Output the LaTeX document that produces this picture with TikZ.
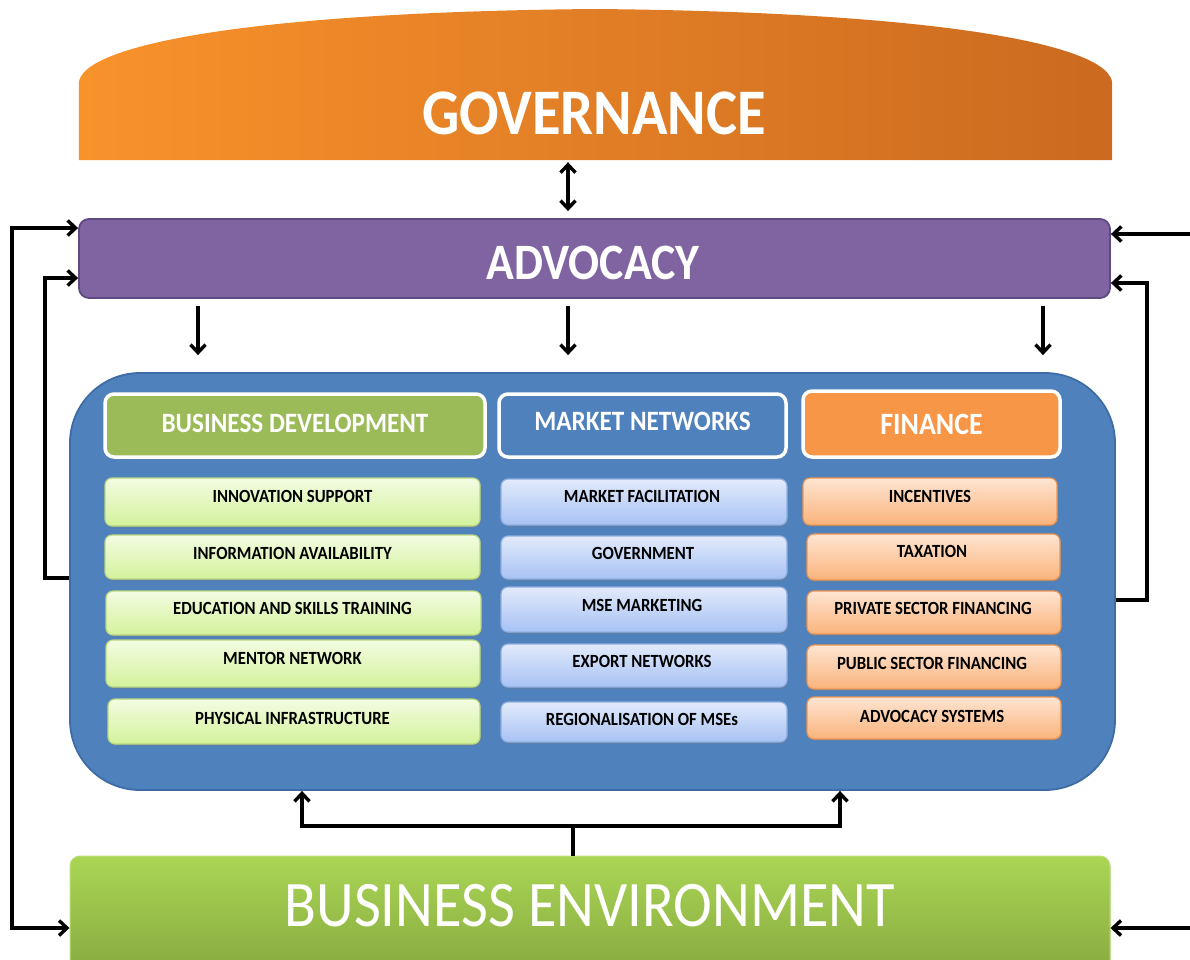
\documentclass[tikz,border=0pt]{standalone}
\usepackage{fontspec}
\setmainfont[FakeStretch=0.9]{Carlito}
\usetikzlibrary{arrows.meta,shadows,calc}
\definecolor{govL}{HTML}{F8922B}
\definecolor{govM}{HTML}{EE8527}
\definecolor{govR}{HTML}{CB6A20}
\definecolor{advF}{HTML}{8064A2}
\definecolor{advD}{HTML}{5E4A82}
\definecolor{contF}{HTML}{4F81BD}
\definecolor{contD}{HTML}{3D6CA6}
\definecolor{bdF}{HTML}{9BBB59}
\definecolor{mnF}{HTML}{4F81BD}
\definecolor{finF}{HTML}{F79646}
\definecolor{gT}{HTML}{F3FCE2}
\definecolor{gB}{HTML}{D3F29B}
\definecolor{gD}{HTML}{B9D77E}
\definecolor{bT}{HTML}{E2EAFB}
\definecolor{bB}{HTML}{A7C2F4}
\definecolor{bD}{HTML}{8FAEE0}
\definecolor{oT}{HTML}{FEE5D2}
\definecolor{oB}{HTML}{FAB37B}
\definecolor{oD}{HTML}{EE9550}
\definecolor{beT}{HTML}{AAD655}
\definecolor{beB}{HTML}{87A83F}
\tikzset{
  conn/.style={draw=black, line width=3.4pt},
  arr/.style={conn, -{Straight Barb[length=8pt,width=15pt]}},
  darr/.style={conn, {Straight Barb[length=8pt,width=15pt]}-{Straight Barb[length=8pt,width=15pt]}},
  hdr/.style={draw=white, line width=3.5pt, rounded corners=9pt, inner sep=0pt,
    drop shadow={shadow xshift=1pt, shadow yshift=-2.5pt, opacity=0.35}},
  sub/.style={line width=1.2pt, rounded corners=7pt, inner sep=0pt,
    drop shadow={shadow xshift=1pt, shadow yshift=-2pt, opacity=0.3}},
  gsub/.style={sub, draw=gD, top color=gT, bottom color=gB},
  bsub/.style={sub, draw=bD, top color=bT, bottom color=bB},
  osub/.style={sub, draw=oD, top color=oT, bottom color=oB},
  stext/.style={font=\bfseries\fontsize{18.6}{20}\selectfont, text=black, inner sep=0pt},
  htext/.style={font=\bfseries\fontsize{28}{30}\selectfont, text=white, inner sep=0pt},
}
\begin{document}
\begin{tikzpicture}[x=1pt,y=-1pt]
\useasboundingbox (0,0) rectangle (1190,959);

% ---------- GOVERNANCE ----------
\node[inner sep=0pt, minimum width=1033pt, minimum height=76pt] (govbox) at (595.5,122) {};
\shade[left color=govL, middle color=govM, right color=govR]
  (govbox.south west) -- (govbox.north west)
  .. controls (79,45) and (250,12) .. (595,9)
  .. controls (940,12) and (1112,45) .. (govbox.north east)
  -- (govbox.south east) -- cycle;
\node[font=\bfseries\fontsize{65}{70}\selectfont, text=white, inner sep=0pt] (gov) at (594,113) {GOVERNANCE};

% ---------- ADVOCACY ----------
\node[draw=advD, line width=1.8pt, fill=advF, rounded corners=10pt, inner sep=0pt,
      minimum width=1031pt, minimum height=79pt] (adv) at (594.5,258.5) {};
\node[font=\bfseries\fontsize{51}{55}\selectfont, text=white, inner sep=0pt] (advt) at (593,263) {ADVOCACY};

% ---------- CONTAINER ----------
\node[draw=contD, line width=1.8pt, fill=contF, rounded corners=70pt, inner sep=0pt,
      minimum width=1045pt, minimum height=417pt] (cont) at (592.5,581.5) {};

% headers
\node[hdr, fill=bdF, minimum width=380pt, minimum height=63pt] (bd) at (295,425.5) {};
\node[htext] (bdt) at (295,423) {BUSINESS DEVELOPMENT};
\node[hdr, fill=mnF, minimum width=287pt, minimum height=63pt] (mn) at (642.5,425.5) {};
\node[htext] (mnt) at (642.5,421) {MARKET NETWORKS};
\node[hdr, fill=finF, minimum width=257pt, minimum height=66pt] (fin) at (931.5,424) {};
\node[htext, font=\bfseries\fontsize{31}{33}\selectfont] (fint) at (931.5,424) {FINANCE};

% green column
\node[gsub, minimum width=375pt, minimum height=48pt] (g1) at (292.5,502) {};
\node[stext] (g1t) at (292.5,496) {INNOVATION SUPPORT};
\node[gsub, minimum width=375pt, minimum height=44pt] (g2) at (292.5,557) {};
\node[stext] (g2t) at (292.5,553) {INFORMATION AVAILABILITY};
\node[gsub, minimum width=375pt, minimum height=44pt] (g3) at (293.5,613) {};
\node[stext] (g3t) at (292.5,608) {EDUCATION AND SKILLS TRAINING};
\node[gsub, minimum width=374pt, minimum height=47pt] (g4) at (293,663.5) {};
\node[stext] (g4t) at (292.5,658) {MENTOR NETWORK};
\node[gsub, minimum width=372pt, minimum height=45pt] (g5) at (294,721.5) {};
\node[stext] (g5t) at (292.5,718) {PHYSICAL INFRASTRUCTURE};

% blue column
\node[bsub, minimum width=286pt, minimum height=46pt] (m1) at (644,502) {};
\node[stext] (m1t) at (642,496) {MARKET FACILITATION};
\node[bsub, minimum width=286pt, minimum height=43pt] (m2) at (644,557.5) {};
\node[stext] (m2t) at (643,553) {GOVERNMENT};
\node[bsub, minimum width=286pt, minimum height=45pt] (m3) at (644,609.5) {};
\node[stext] (m3t) at (642,605) {MSE MARKETING};
\node[bsub, minimum width=286pt, minimum height=43pt] (m4) at (644,665.5) {};
\node[stext] (m4t) at (642,661) {EXPORT NETWORKS};
\node[bsub, minimum width=286pt, minimum height=40pt] (m5) at (644,722) {};
\node[stext] (m5t) at (642,719) {REGIONALISATION OF MSEs};

% orange column
\node[osub, minimum width=254pt, minimum height=47pt] (f1) at (930,501.5) {};
\node[stext] (f1t) at (930,496) {INCENTIVES};
\node[osub, minimum width=253pt, minimum height=46pt] (f2) at (933.5,557) {};
\node[stext] (f2t) at (932,551) {TAXATION};
\node[osub, minimum width=254pt, minimum height=43pt] (f3) at (934,612.5) {};
\node[stext] (f3t) at (933,608) {PRIVATE SECTOR FINANCING};
\node[osub, minimum width=254pt, minimum height=44pt] (f4) at (934,667) {};
\node[stext] (f4t) at (932,663) {PUBLIC SECTOR FINANCING};
\node[osub, minimum width=254pt, minimum height=42pt] (f5) at (934,718) {};
\node[stext] (f5t) at (932,716) {ADVOCACY SYSTEMS};

% ---------- BUSINESS ENVIRONMENT ----------
\node[top color=beT, bottom color=beB, draw=beT!80!white, line width=1pt, rounded corners=10pt, inner sep=0pt,
      minimum width=1040pt, minimum height=120pt,
      drop shadow={shadow xshift=1pt, shadow yshift=-2pt, opacity=0.3}] (be) at (590,916) {};
\node[font=\fontsize{65}{70}\selectfont, text=white, inner sep=0pt] (bet) at (590,906) {BUSINESS ENVIRONMENT};

% ---------- helper coordinates ----------
\coordinate (xg) at (568,0);
\coordinate (d1) at (198,0);
\coordinate (d3) at (1043,0);
\coordinate (xLo) at (12,0);
\coordinate (xLi) at (45,0);
\coordinate (xRi) at (1147,0);
\coordinate (xRo) at (1190,0);
\coordinate (xm) at (573,0);
\coordinate (xb1) at (302,0);
\coordinate (xb2) at (840,0);
\coordinate (yA) at (0,228);
\coordinate (yB) at (0,928);
\coordinate (yC) at (0,578);
\coordinate (yD) at (0,278);
\coordinate (yE) at (0,600);
\coordinate (yF) at (0,283);
\coordinate (yG) at (0,234);
\coordinate (yH) at (0,826);

% ---------- connectors ----------
\draw[darr, shorten <=2pt, shorten >=7pt] (govbox.south -| xg) -- (adv.north -| xg);
\draw[arr, shorten <=7pt, shorten >=17pt] (adv.south -| d1) -- (cont.north -| d1);
\draw[arr, shorten <=7pt, shorten >=17pt] (adv.south -| xg) -- (cont.north -| xg);
\draw[arr, shorten <=7pt, shorten >=17pt] (adv.south -| d3) -- (cont.north -| d3);

% left outer (advocacy <-> business environment)
\draw[darr] (adv.west |- yA) -- (xLo |- yA) -- (xLo |- yB) -- (be.west |- yB);
% left inner (container -> advocacy)
\draw[arr] (cont.west |- yC) -- (xLi |- yC) -- (xLi |- yD) -- (adv.west |- yD);
% right inner (container -> advocacy)
\draw[arr] (cont.east |- yE) -- (xRi |- yE) -- (xRi |- yF) -- (adv.east |- yF);
% right outer (free ends at the picture edge)
\coordinate (ro1) at (xRo |- yG);
\coordinate (ro2) at (xRo |- yB);
\draw[arr] (ro1) -- (adv.east |- yG);
\draw[arr] (ro2) -- (be.east |- yB);
% bottom (business environment -> container)
\draw[conn] (be.north -| xm) -- (xm |- yH);
\draw[arr] (xm |- yH) -| (cont.south -| xb1);
\draw[arr] (xm |- yH) -| (cont.south -| xb2);
\end{tikzpicture}
\end{document}
